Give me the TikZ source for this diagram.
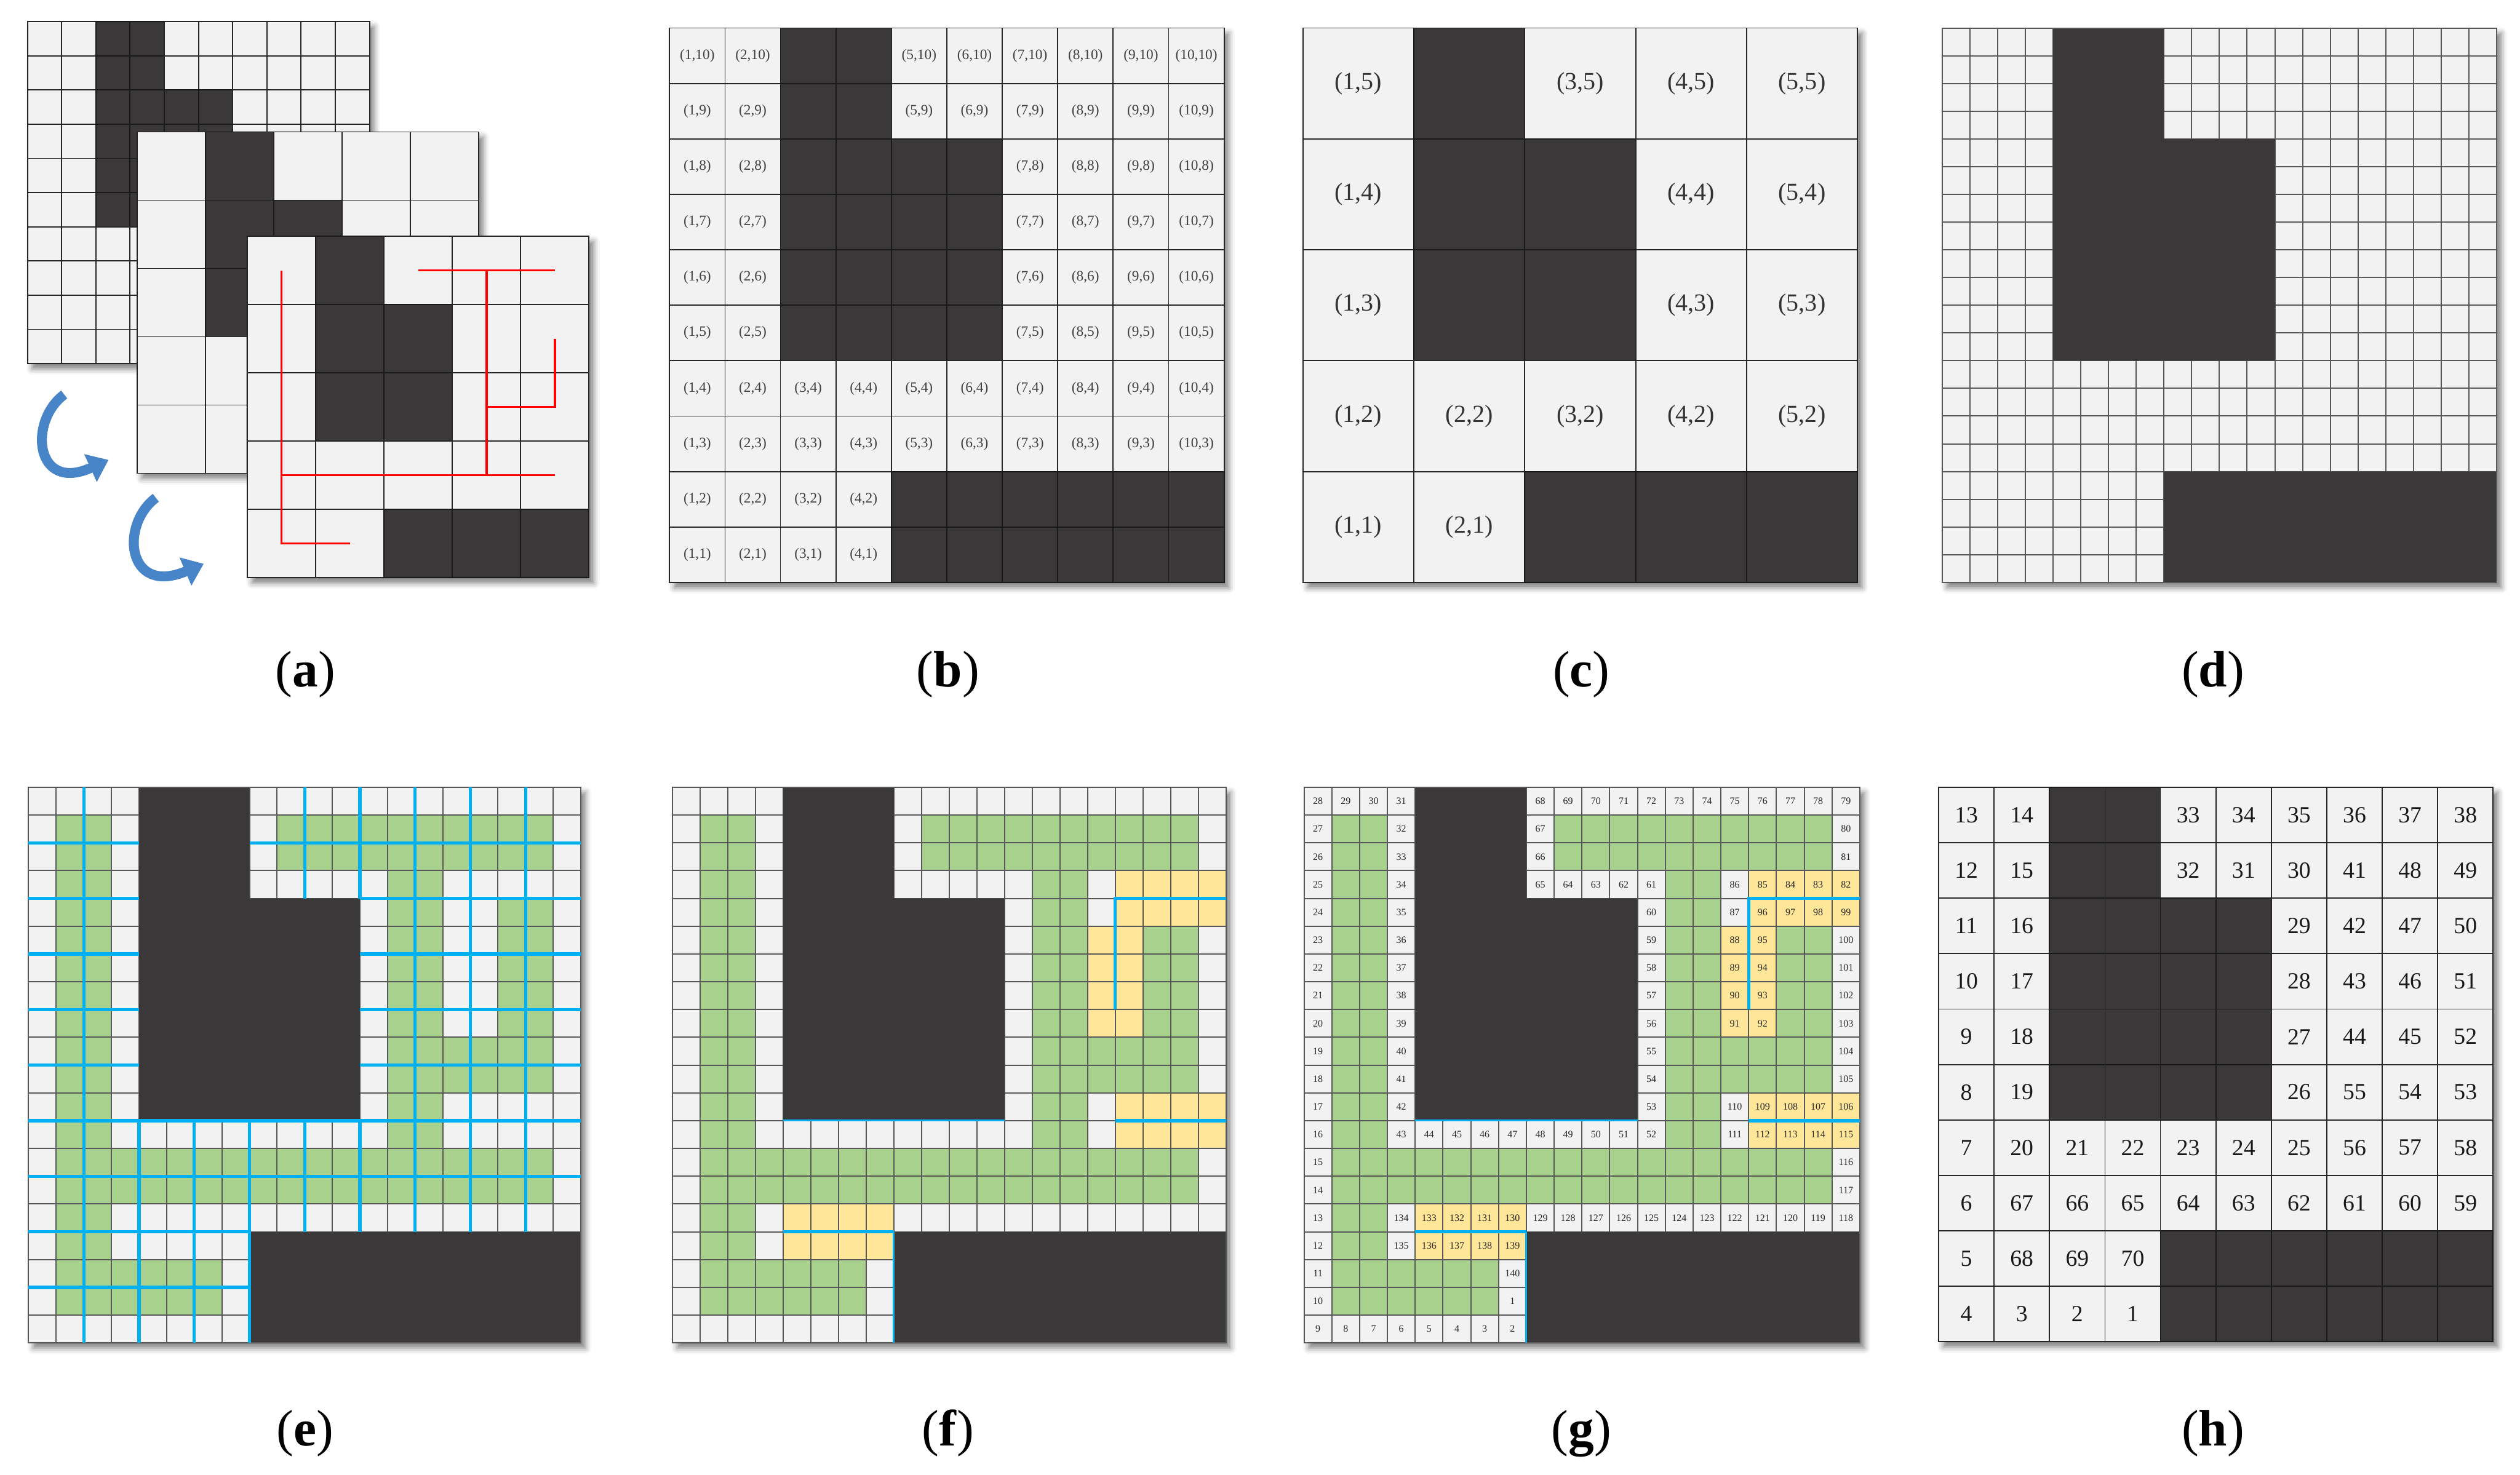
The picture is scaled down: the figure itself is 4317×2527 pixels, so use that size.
\documentclass[tikz,border=0pt]{standalone}
\usepackage{fontspec}
\setmainfont{Liberation Serif}
\usetikzlibrary{arrows.meta, shadows.blur}

\definecolor{cellbg}{RGB}{242,242,242}
\definecolor{obst}{RGB}{58,56,56}
\definecolor{grn}{RGB}{169,209,142}
\definecolor{ylw}{RGB}{255,230,153}
\definecolor{cyn}{RGB}{0,176,240}
\definecolor{gline}{RGB}{88,88,88}
\definecolor{arrblue}{RGB}{72,132,200}

% coarse maps (1 = free, 0 = obstacle), rows from the top
\def\maskb{{1,1,0,0,1,1,1,1,1,1},{1,1,0,0,1,1,1,1,1,1},{1,1,0,0,0,0,1,1,1,1},{1,1,0,0,0,0,1,1,1,1},{1,1,0,0,0,0,1,1,1,1},{1,1,0,0,0,0,1,1,1,1},{1,1,1,1,1,1,1,1,1,1},{1,1,1,1,1,1,1,1,1,1},{1,1,1,1,0,0,0,0,0,0},{1,1,1,1,0,0,0,0,0,0}}
\def\maskc{{1,0,1,1,1},{1,0,0,1,1},{1,0,0,1,1},{1,1,1,1,1},{1,1,0,0,0}}
\def\numh{{13,14,0,0,33,34,35,36,37,38},{12,15,0,0,32,31,30,41,48,49},{11,16,0,0,0,0,29,42,47,50},{10,17,0,0,0,0,28,43,46,51},{9,18,0,0,0,0,27,44,45,52},{8,19,0,0,0,0,26,55,54,53},{7,20,21,22,23,24,25,56,57,58},{6,67,66,65,64,63,62,61,60,59},{5,68,69,70,0,0,0,0,0,0},{4,3,2,1,0,0,0,0,0,0}}

% fine 20x20 map
\newcommand\finegrid{%
  \foreach \k in {0,...,20}{\draw[fineline] (\k,0) -- (\k,20) (0,\k) -- (20,\k);}
  \fill[obst] (4,0) rectangle (8,4) (4,4) rectangle (12,12) (8,16) rectangle (20,20);
  \draw[fineline] (0,0) rectangle (20,20);}
\newcommand\greencells{%
  \fill[grn] (1,1) rectangle (3,19) (9,1) rectangle (19,3) (13,3) rectangle (15,13)
    (17,4) rectangle (19,11) (15,9) rectangle (17,11) (1,13) rectangle (19,15) (1,17) rectangle (7,19);}
\newcommand\yellowcells{%
  \fill[ylw] (16,3) rectangle (20,5) (15,5) rectangle (17,9) (16,11) rectangle (20,13) (4,15) rectangle (8,17);}
\newcommand\pairlines{%
  \draw[thincut] (4,12) -- (12,12) (8,16) -- (8,20);
  \draw[cut] (16,8) -- (16,4) -- (20,4) (16,12) -- (20,12) (4,16) -- (8,16);}
\newcommand\gnum[3]{\node[tinynum] (g-#1-#2) at (#1-0.5,#2-0.5) {#3};}
\newcommand\gcol[4]{\foreach \r in {#2,...,#3}{\pgfmathtruncatemacro\n{#4}\gnum{#1}{\r}{\n}}}
\newcommand\grow[4]{\foreach \c in {#2,...,#3}{\pgfmathtruncatemacro\n{#4}\gnum{\c}{#1}{\n}}}

\begin{document}
\begin{tikzpicture}[x=0.1mm, y=-0.1mm,
    panel/.style={fill=cellbg, blur shadow={shadow xshift=0.8mm, shadow yshift=-0.9mm, shadow blur radius=1mm, shadow opacity=50}},
    cellbox/.style={fill=cellbg, draw=black!85, line width=0.55pt},
    wallbox/.style={fill=obst, draw=black!90, line width=0.55pt},
    fineline/.style={draw=gline, line width=0.6pt},
    caption/.style={font=\fontsize{25}{30}\selectfont},
    pairlab/.style={font=\fontsize{7}{8}\selectfont, text=black!75, inner sep=0pt},
    cornerlab/.style={font=\fontsize{12}{14}\selectfont, text=black!80, inner sep=0pt},
    bignum/.style={font=\fontsize{11.3}{13}\selectfont, text=black!90, inner sep=0pt},
    tinynum/.style={font=\fontsize{4.8}{5.5}\selectfont, text=black!85, inner sep=0pt},
    cut/.style={draw=cyn, line width=1.6pt},
    thincut/.style={draw=cyn, line width=0.9pt},
    tree/.style={draw=red, line width=1pt},
    turn/.style={draw=arrblue, line width=1.7mm, -{Triangle[width=5mm,length=3.4mm]}}
  ]
  \useasboundingbox (0,0) rectangle (4317,2527);

  % (a) three stacked maps
  \begin{scope}[shift={(47,37)}, x=5.86mm, y=-5.86mm]
    \fill[panel] (0,0) rectangle (10,10);
    \foreach \row [count=\r] in \maskb {
      \foreach \v [count=\c] in \row {
        \ifnum\v=0 \draw[wallbox] (\c-1,\r-1) rectangle (\c,\r);
        \else \draw[cellbox] (\c-1,\r-1) rectangle (\c,\r); \fi
      }
    }
  \end{scope}
  \begin{scope}[shift={(235,226)}, x=11.7mm, y=-11.7mm]
    \fill[panel] (0,0) rectangle (5,5);
    \foreach \row [count=\r] in \maskc {
      \foreach \v [count=\c] in \row {
        \ifnum\v=0 \draw[wallbox] (\c-1,\r-1) rectangle (\c,\r);
        \else \draw[cellbox] (\c-1,\r-1) rectangle (\c,\r); \fi
      }
    }
  \end{scope}
  \begin{scope}[shift={(424,405)}, x=11.7mm, y=-11.7mm]
    \fill[panel] (0,0) rectangle (5,5);
    \foreach \row [count=\r] in \maskc {
      \foreach \v [count=\c] in \row {
        \ifnum\v=0 \draw[wallbox] (\c-1,\r-1) rectangle (\c,\r);
        \else \draw[cellbox] (\c-1,\r-1) rectangle (\c,\r); \fi
      }
    }
    \draw[tree] (2.5,0.5) -- (4.5,0.5) (3.5,0.5) -- (3.5,3.5) (3.5,2.5) -- (4.5,2.5) -- (4.5,1.5)
      (0.5,0.5) -- (0.5,4.5) -- (1.5,4.5) (0.5,3.5) -- (4.5,3.5);
  \end{scope}
  \draw[turn] (110,676) .. controls (48,722) and (60,845) .. (186,788);
  \draw[turn] (267,853) .. controls (205,899) and (217,1022) .. (349,966);

  % (b) coarse map with cell indices
  \begin{scope}[shift={(1147,48)}, x=9.5mm, y=-9.5mm]
    \fill[panel] (0,0) rectangle (10,10);
    \foreach \row [count=\r] in \maskb {
      \foreach \v [count=\c] in \row {
        \ifnum\v=0 \draw[wallbox] (\c-1,\r-1) rectangle (\c,\r);
        \else
          \draw[cellbox] (\c-1,\r-1) rectangle (\c,\r);
          \pgfmathtruncatemacro\j{11-\r}
          \node[pairlab] (b-\c-\j) at (\c-0.5,\r-0.5) {(\c,\j)};
        \fi
      }
    }
  \end{scope}

  % (c) merged map
  \begin{scope}[shift={(2232,48)}, x=19mm, y=-19mm]
    \fill[panel] (0,0) rectangle (5,5);
    \foreach \row [count=\r] in \maskc {
      \foreach \v [count=\c] in \row {
        \ifnum\v=0 \draw[wallbox] (\c-1,\r-1) rectangle (\c,\r);
        \else
          \draw[cellbox] (\c-1,\r-1) rectangle (\c,\r);
          \pgfmathtruncatemacro\j{6-\r}
          \node[cornerlab] (c-\c-\j) at (\c-0.5,\r-0.5) {(\c,\j)};
        \fi
      }
    }
  \end{scope}

  % (d) fine map
  \begin{scope}[shift={(3327,48)}, x=4.75mm, y=-4.75mm]
    \fill[panel] (0,0) rectangle (20,20);
    \finegrid
  \end{scope}

  % (e) fine map, tree cells and coarse cuts
  \begin{scope}[shift={(49,1349)}, x=4.73mm, y=-4.76mm]
    \fill[panel] (0,0) rectangle (20,20);
    \greencells
    \finegrid
    \draw[cut] (2,0) -- (2,20) (4,12) -- (4,20) (6,12) -- (6,20) (8,12) -- (8,20)
      (10,0) -- (10,4) (10,12) -- (10,16) (12,0) -- (12,4) (12,12) -- (12,16)
      (14,0) -- (14,16) (16,0) -- (16,16) (18,0) -- (18,16);
    \draw[cut] (0,2) -- (4,2) (8,2) -- (20,2)
      (0,4) -- (4,4) (12,4) -- (20,4) (0,6) -- (4,6) (12,6) -- (20,6)
      (0,8) -- (4,8) (12,8) -- (20,8) (0,10) -- (4,10) (12,10) -- (20,10)
      (0,12) -- (20,12) (0,14) -- (20,14) (0,16) -- (8,16) (0,18) -- (8,18);
  \end{scope}

  % (f) fine map with paired cells
  \begin{scope}[shift={(1152,1349)}, x=4.74mm, y=-4.76mm]
    \fill[panel] (0,0) rectangle (20,20);
    \greencells
    \yellowcells
    \finegrid
    \pairlines
  \end{scope}

  % (g) fine map with visiting order
  \begin{scope}[shift={(2234,1349)}, x=4.76mm, y=-4.76mm]
    \fill[panel] (0,0) rectangle (20,20);
    \greencells
    \yellowcells
    \finegrid
    \pairlines
    \gcol{1}{1}{20}{29-\r}
    \grow{1}{2}{4}{27+\c}
    \gcol{4}{2}{13}{30+\r}
    \grow{13}{5}{13}{39+\c}
    \gcol{13}{4}{12}{65-\r}
    \grow{4}{9}{12}{74-\c}
    \gcol{9}{1}{3}{69-\r}
    \grow{1}{10}{20}{59+\c}
    \gcol{20}{2}{3}{78+\r}
    \grow{4}{17}{20}{102-\c}
    \gcol{16}{4}{9}{82+\r}
    \gcol{17}{6}{9}{101-\r}
    \grow{5}{17}{20}{79+\c}
    \gcol{20}{6}{11}{94+\r}
    \grow{12}{17}{20}{126-\c}
    \gcol{16}{12}{13}{98+\r}
    \grow{13}{17}{20}{95+\c}
    \gcol{20}{14}{16}{102+\r}
    \grow{16}{5}{19}{138-\c}
    \gcol{4}{16}{17}{118+\r}
    \grow{17}{5}{8}{131+\c}
    \gnum{8}{18}{140}
    \gnum{8}{19}{1}
    \grow{20}{2}{8}{10-\c}
  \end{scope}

  % (h) coarse visiting order
  \begin{scope}[shift={(3321,1349)}, x=9.5mm, y=-9.5mm]
    \fill[panel] (0,0) rectangle (10,10);
    \foreach \row [count=\r] in \numh {
      \foreach \v [count=\c] in \row {
        \ifnum\v=0 \draw[wallbox] (\c-1,\r-1) rectangle (\c,\r);
        \else
          \draw[cellbox] (\c-1,\r-1) rectangle (\c,\r);
          \node[bignum] (h-\c-\r) at (\c-0.5,\r-0.5) {\v};
        \fi
      }
    }
  \end{scope}

  % captions
  \node[caption] (cap-a) at (523,1156) {(\textbf{a})};
  \node[caption] (cap-b) at (1624,1156) {(\textbf{b})};
  \node[caption] (cap-c) at (2709,1156) {(\textbf{c})};
  \node[caption] (cap-d) at (3791,1156) {(\textbf{d})};
  \node[caption] (cap-e) at (523,2456) {(\textbf{e})};
  \node[caption] (cap-f) at (1624,2456) {(\textbf{f})};
  \node[caption] (cap-g) at (2709,2456) {(\textbf{g})};
  \node[caption] (cap-h) at (3791,2456) {(\textbf{h})};
\end{tikzpicture}
\end{document}
